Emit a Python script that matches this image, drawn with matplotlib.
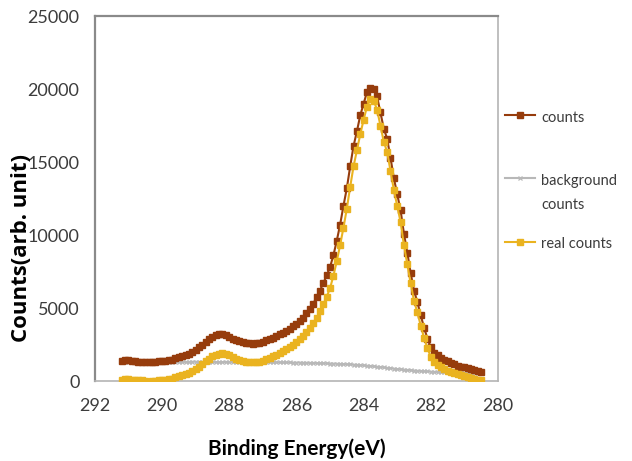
import numpy as np
import matplotlib
matplotlib.use("Agg")
import matplotlib.pyplot as plt
from matplotlib.legend_handler import HandlerLine2D

# C 1s spectrum, 0.1 eV steps from 291.2 eV down to 280.5 eV
energy = np.round(np.arange(291.2, 280.45, -0.1), 1)

counts = [
    1350, 1450, 1420, 1380, 1350, 1330, 1300, 1280, 1300, 1290,
    1320, 1350, 1380, 1400, 1430, 1470, 1550,
    1620, 1680, 1770, 1870, 1980, 2120, 2300, 2500, 2680, 2870,
    3020, 3130, 3200, 3200, 3130, 3020,
    2900, 2800, 2710, 2650, 2600, 2580, 2570, 2580, 2620, 2690,
    2780, 2880, 2980, 3080, 3190, 3320, 3450, 3590, 3740, 3900,
    4100, 4350, 4640, 4950, 5300, 5730, 6200, 6700, 7230, 7800,
    8600, 9600, 10700, 12000, 13200, 14700, 16100, 17100, 18200, 19000,
    19800, 20100, 20000, 19500, 18400, 17300, 16600, 15300, 13900, 12800,
    11700, 10100, 8800, 7400, 6200, 5400, 4500, 3650, 2900, 2300,
    1950, 1750, 1600, 1460, 1340, 1230, 1140, 1060, 990, 930,
    870, 810, 750, 690, 630,
]

background = [
    1280, 1300, 1310, 1290, 1280, 1270, 1260, 1250, 1260, 1270,
    1280, 1290, 1300, 1300, 1290, 1300, 1310, 1300, 1300, 1310,
    1310, 1320, 1320, 1310, 1310, 1300, 1310, 1300, 1300, 1300,
    1300, 1310, 1300, 1300, 1300, 1290, 1300, 1300, 1290, 1300,
    1290, 1290, 1290,
    1290, 1290, 1280, 1280, 1280, 1270, 1270, 1270, 1260, 1260,
    1260, 1250, 1250, 1240, 1240, 1230, 1220, 1220, 1210, 1200,
    1190, 1180, 1170, 1160, 1150, 1140, 1120, 1110, 1090, 1070,
    1050, 1030, 1000, 980, 960, 930, 900, 880, 850, 820,
    800, 780, 760, 740, 720, 700, 690, 670, 660, 640,
    630, 620, 610, 600, 590, 580, 580, 570, 570, 560,
    560, 560, 550, 550, 550,
]

real_counts = [
    70, 150, 110, 90, 70, 60, 40, 20, -40, 30,
    -30, 50, 80, 100, 130, 170, 250,
    330, 400, 480, 580, 690, 830, 990, 1170, 1360, 1530,
    1680, 1800, 1880, 1900, 1850, 1750,
    1640, 1530, 1440, 1370, 1320, 1290, 1270, 1280, 1320, 1390,
    1480, 1580, 1690, 1800, 1910, 2040, 2180, 2330, 2490, 2660,
    2850, 3080, 3330, 3620, 3950, 4330, 4770, 5250, 5770, 6350,
    7200, 8200, 9300, 10500, 11800, 13300, 14700, 15800, 16900, 17900,
    18800, 19300, 19200, 18600, 17500, 16400, 15700, 14400, 13100, 12000,
    10900, 9300, 8000, 6700, 5500, 4700, 3800, 2950, 2250, 1650,
    1300, 1100, 950, 820, 720, 620, 530, 450, 380, 320,
    260, 200, 140, 90, 50,
]

x_ticks = [292, 290, 288, 286, 284, 282, 280]
y_ticks = [0, 5000, 10000, 15000, 20000, 25000]

plt.rcParams['font.family'] = ['Lato', 'DejaVu Sans']


class FirstLineHandler(HandlerLine2D):
    # put the legend marker level with the first line of a two-line label
    def create_artists(self, legend, orig_handle, xdescent, ydescent,
                       width, height, fontsize, trans):
        return super().create_artists(legend, orig_handle, xdescent,
                                      ydescent - 21, width, height,
                                      fontsize, trans)


fig = plt.figure(figsize=(6.32, 4.61), dpi=100)
ax = fig.add_axes([0.150, 0.1735, 0.638, 0.7915])

l1, = ax.plot(energy, counts, '-s', color='#963c0c', lw=1.5, ms=4,
              mec='#963c0c', zorder=3)
l2, = ax.plot(energy, background, '-x', color='#b8b8b8', lw=1.5, ms=3.5,
              mew=0.9, zorder=2)
l3, = ax.plot(energy, real_counts, '-s', color='#eab320', lw=1.5, ms=4,
              mec='#eab320', zorder=4)

ax.set_xlim(292, 280)
ax.set_ylim(0, 25000)
ax.set_xticks(x_ticks)
ax.set_yticks(y_ticks)
ax.tick_params(length=0, labelsize=13, colors='#3c3c3c')
ax.tick_params(axis='x', pad=12)
ax.tick_params(axis='y', pad=11)

for side in ['left', 'top']:
    ax.spines[side].set_color('#8a8a8a')
    ax.spines[side].set_linewidth(1.6)
for side in ['right', 'bottom']:
    ax.spines[side].set_color('#b4b4b4')
    ax.spines[side].set_linewidth(1.2)

ax.set_xlabel('Binding Energy(eV)', fontsize=15, fontweight='bold', va='center')
ax.set_ylabel('Counts(arb. unit)', fontsize=16, fontweight='bold', va='center',
              family='Open Sans')
ax.xaxis.set_label_coords(0.5, -0.186)
ax.yaxis.set_label_coords(-0.183, 0.365)

handler = FirstLineHandler()
leg = ax.legend([l1, l2, l3], ['counts\n', 'background\ncounts', 'real counts\n'],
                loc='upper left', bbox_to_anchor=(1.017, 0.741), frameon=False,
                fontsize=10.5, labelspacing=1.75, handlelength=2.1,
                handletextpad=0.4, borderaxespad=0, borderpad=0,
                handler_map={l1: handler, l2: handler, l3: handler})
for t in leg.get_texts():
    t.set_color('#3c3c3c')
    t.set_linespacing(1.88)

fig.savefig('out.png', dpi=100)
